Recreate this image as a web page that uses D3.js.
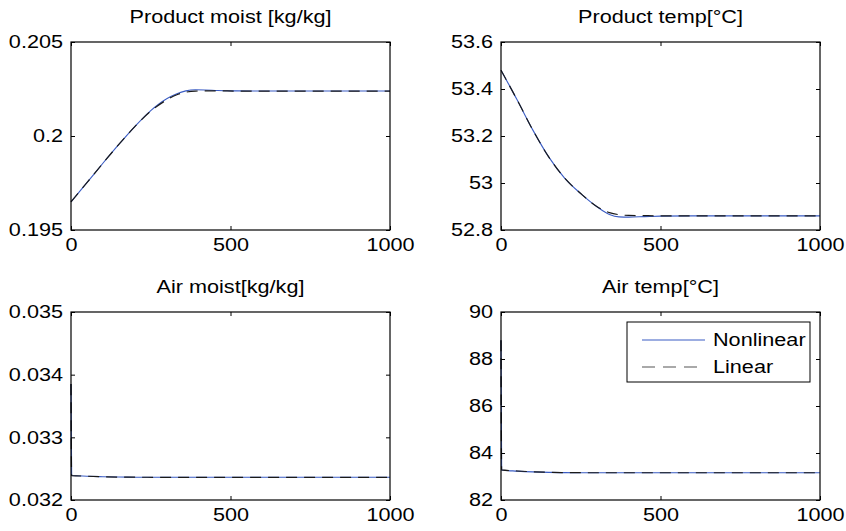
<!DOCTYPE html>
<meta charset="utf-8">
<style>
  body { margin: 0; background: #fff; }
  text { font-family: "Liberation Sans", Arial, sans-serif; font-size: 18.5px; fill: #000; }
</style>
<body>
<svg id="chart" width="846" height="531"></svg>
<script src="https://cdnjs.cloudflare.com/ajax/libs/d3/7.8.5/d3.min.js"></script>
<script>

// time axis
var xTicks = [0, 500, 1000];

// product states
var tProduct = [0, 50, 100, 150, 200, 250, 300, 330, 360, 390, 420, 460, 520, 600, 800, 1000];
var moistNonlinear = [0.19650, 0.19752, 0.19855, 0.19955, 0.20050, 0.20135, 0.20198, 0.20223, 0.20240, 0.20246, 0.20245, 0.20242, 0.20240, 0.20239, 0.20239, 0.20239];
var moistLinear    = [0.19650, 0.19752, 0.19855, 0.19955, 0.20050, 0.20132, 0.20192, 0.20218, 0.20233, 0.20239, 0.20240, 0.20240, 0.20239, 0.20239, 0.20239, 0.20239];

var tTemp = [0, 50, 100, 150, 200, 250, 300, 340, 370, 400, 450, 500, 600, 800, 1000];
var tempNonlinear = [53.48, 53.355, 53.225, 53.11, 53.02, 52.955, 52.90, 52.866, 52.856, 52.855, 52.857, 52.859, 52.860, 52.860, 52.860];
var tempLinear    = [53.48, 53.355, 53.225, 53.11, 53.02, 52.955, 52.90, 52.874, 52.865, 52.862, 52.861, 52.860, 52.860, 52.860, 52.860];

// air states
var tAir = [0, 2, 50, 100, 150, 200, 300, 600, 1000];
var airMoistNonlinear = [0.03385, 0.03239, 0.03238, 0.032372, 0.032366, 0.032364, 0.032362, 0.032362, 0.032362];
var airMoistLinear    = [0.03385, 0.03239, 0.03238, 0.032372, 0.032366, 0.032364, 0.032362, 0.032362, 0.032362];
var airTempNonlinear  = [88.8, 83.28, 83.23, 83.195, 83.175, 83.165, 83.16, 83.16, 83.16];
var airTempLinear     = [88.8, 83.28, 83.235, 83.20, 83.178, 83.166, 83.16, 83.16, 83.16];

var titles = ["Product moist [kg/kg]", "Product temp[\u00b0C]", "Air moist[kg/kg]", "Air temp[\u00b0C]"];
var yDomains = [[0.195, 0.205], [52.8, 53.6], [0.032, 0.035], [82, 90]];
var yTicks = [[0.195, 0.2, 0.205], [52.8, 53, 53.2, 53.4, 53.6], [0.032, 0.033, 0.034, 0.035], [82, 84, 86, 88, 90]];
var legendLabels = ["Nonlinear", "Linear"];

var panels = [
  {t: tProduct, nl: moistNonlinear, lin: moistLinear},
  {t: tTemp, nl: tempNonlinear, lin: tempLinear},
  {t: tAir, nl: airMoistNonlinear, lin: airMoistLinear},
  {t: tAir, nl: airTempNonlinear, lin: airTempLinear}
];

var colLeft = [71, 501], axW = 319;
var rowTop = [42, 312], axH = 188;
var sx = 1.17; // text is a bit wide in the original
var blue = "#3a5cc4";

var fmt = d3.format("~g");
var svg = d3.select("#chart");

panels.forEach(function(p, i) {
  var g = svg.append("g")
    .attr("transform", "translate(" + colLeft[i % 2] + "," + rowTop[Math.floor(i / 2)] + ")");

  var x = d3.scaleLinear().domain([0, 1000]).range([0, axW]);
  var y = d3.scaleLinear().domain(yDomains[i]).range([axH, 0]);

  var line = d3.line()
    .x(function(d) { return x(d[0]); })
    .y(function(d) { return y(d[1]); })
    .curve(d3.curveMonotoneX);

  g.append("path")
    .datum(d3.zip(p.t, p.nl))
    .attr("d", line)
    .attr("fill", "none")
    .attr("stroke", blue)
    .attr("stroke-width", 1.1);

  g.append("path")
    .datum(d3.zip(p.t, p.lin))
    .attr("d", line)
    .attr("fill", "none")
    .attr("stroke", "#1a1a1a")
    .attr("stroke-width", 1.2)
    .attr("stroke-dasharray", "11,7");

  // axes with inward ticks on all four sides
  var bottom = g.append("g").attr("transform", "translate(0," + axH + ")")
    .call(d3.axisBottom(x).tickValues(xTicks).tickFormat(fmt).tickSizeInner(-4).tickSizeOuter(0).tickPadding(8));
  var left = g.append("g")
    .call(d3.axisLeft(y).tickValues(yTicks[i]).tickFormat(fmt).tickSizeInner(-4).tickSizeOuter(0));
  g.append("g").attr("transform", "translate(" + axW + ",0)")
    .call(d3.axisRight(y).tickValues(yTicks[i]).tickFormat("").tickSizeInner(-4).tickSizeOuter(0));
  g.append("g")
    .call(d3.axisTop(x).tickValues(xTicks).tickFormat("").tickSizeInner(-4).tickSizeOuter(0));

  g.selectAll(".domain").remove();
  g.selectAll(".tick line").attr("stroke", "#000");
  g.selectAll(".tick text").attr("font-size", null).attr("font-family", null).attr("fill", "#000");

  bottom.selectAll(".tick text").attr("transform", "scale(" + sx + ",1)");
  left.selectAll(".tick text")
    .attr("x", -8 / sx)
    .attr("transform", "scale(" + sx + ",1)");

  g.append("rect")
    .attr("width", axW).attr("height", axH)
    .attr("fill", "none").attr("stroke", "#000").attr("stroke-width", 1.2);

  g.append("text")
    .attr("text-anchor", "middle")
    .attr("transform", "translate(" + axW / 2 + ",-19) scale(" + sx + ",1)")
    .text(titles[i]);

  if (i === 3) {
    var lg = g.append("g").attr("transform", "translate(" + (627 - 501) + "," + (322 - 312) + ")");
    lg.append("rect").attr("width", 183).attr("height", 60)
      .attr("fill", "#fff").attr("stroke", "#000").attr("stroke-width", 1);
    legendLabels.forEach(function(lab, k) {
      var yy = 18 + k * 27;
      lg.append("line").attr("x1", 15).attr("x2", 78).attr("y1", yy).attr("y2", yy)
        .attr("stroke", k === 0 ? blue : "#555")
        .attr("stroke-width", k === 0 ? 1.1 : 1.2)
        .attr("stroke-dasharray", k === 0 ? null : "13,8");
      lg.append("text")
        .attr("transform", "translate(86," + (yy + 6) + ") scale(" + sx + ",1)")
        .text(lab);
    });
  }
});
</script>
